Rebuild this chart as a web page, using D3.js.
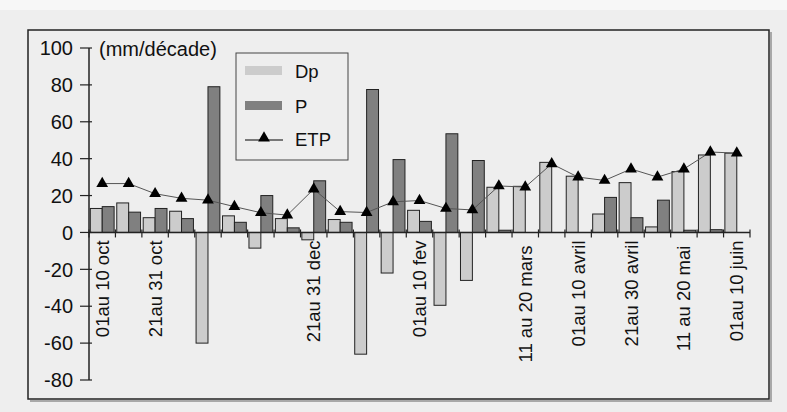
<!DOCTYPE html>
<html lang="fr">
<head>
<meta charset="UTF-8">
<title>Dp, P, ETP</title>
<script src="https://d3js.org/d3.v7.min.js"></script>
<style>
    body { margin: 0; padding: 0; background: #eeeeee; }
    svg { font-family: "Liberation Sans", Arial, sans-serif; display: block; }
</style>
</head>
<body>
<svg width="787" height="412"></svg>
<script>
    const decades = [
        "01au 10 oct", "11au 20 oct", "21au 31 oct",
        "01au 10 nov", "11au 20 nov", "21au 30 nov",
        "01au 10 dec", "11au 20 dec", "21au 31 dec",
        "01au 10 jan", "11au 20 jan", "21au 31 jan",
        "01au 10 fev", "11au 20 fev", "21au 28 fev",
        "01au 10 mars", "11 au 20 mars ", "21au 31 mars",
        "01au 10 avril", "11au 20 avril", "21au 30 avril",
        "01au 10 mai", "11 au 20 mai ", "21au 31 mai",
        "01au 10 juin"
    ];
    // labels actually printed under the axis
    const shownLabels = ["01au 10 oct", "21au 31 oct", "21au 31 dec", "01au 10 fev",
        "11 au 20 mars ", "01au 10 avril", "21au 30 avril", "11 au 20 mai ", "01au 10 juin"];

    const dp = [13, 16, 8, 11.5, -60, 9, -8.5, 7.5, -4, 7, -66, -22, 12, -39.5, -26,
        24.5, 25, 38, 30.5, 10, 27, 3, 33, 42, 43];
    const p = [14, 11, 13, 7.5, 79, 5.5, 20, 2.5, 28, 5.5, 77.5, 39.5, 6, 53.5, 39,
        1.2, 0, 0, 0, 19, 8, 17.5, 1.2, 1.5, 0];
    const etp = [26.5, 26.5, 21, 18.5, 17.5, 14, 10.7, 9.4, 23.5, 11.3, 10.8, 16.6, 17.3,
        13, 12.2, 25.2, 24.6, 37.2, 30, 28.2, 34.4, 30, 34.4, 43.6, 43];

    const yTicks = [-80, -60, -40, -20, 0, 20, 40, 60, 80, 100];

    const svg = d3.select("svg");

    // light strip at the top, then the framed chart with a soft shadow
    svg.append("rect").attr("x", 0).attr("y", 0).attr("width", 787).attr("height", 10)
        .attr("fill", "#f7f7f7");
    svg.append("path").attr("d", "M771,32V401H30")
        .attr("fill", "none").attr("stroke", "#a8a8a8").attr("stroke-width", 2);
    svg.append("rect").attr("x", 28).attr("y", 30).attr("width", 741).attr("height", 369)
        .attr("fill", "#eeeeee").attr("stroke", "#222").attr("stroke-width", 1.5);

    const x = d3.scaleBand().domain(decades).range([89, 750]).paddingInner(0.1).paddingOuter(0.05);
    const y = d3.scaleLinear().domain([-80, 100]).range([380, 48]);

    const bw = x.bandwidth() / 2;

    const g = svg.append("g");

    // Dp bars
    g.selectAll(".dp").data(dp).enter().append("rect")
        .attr("x", (d, i) => x(decades[i]))
        .attr("y", d => y(Math.max(0, d)))
        .attr("width", bw)
        .attr("height", d => Math.abs(y(d) - y(0)))
        .attr("fill", "#cccccc").attr("stroke", "#222").attr("stroke-width", 1);

    // P bars
    g.selectAll(".p").data(p).enter().append("rect")
        .attr("x", (d, i) => x(decades[i]) + bw)
        .attr("y", d => y(Math.max(0, d)))
        .attr("width", bw)
        .attr("height", d => Math.abs(y(d) - y(0)))
        .attr("fill", "#808080").attr("stroke", "#222").attr("stroke-width", 1);

    // y axis
    const yAxis = g.append("g").attr("transform", "translate(89,0)");
    yAxis.append("line").attr("y1", y(100)).attr("y2", y(-80)).attr("stroke", "#222").attr("stroke-width", 1.5);
    yAxis.selectAll(".yt").data(yTicks).enter().append("line")
        .attr("x1", -9).attr("x2", 3)
        .attr("y1", d => y(d)).attr("y2", d => y(d))
        .attr("stroke", "#222").attr("stroke-width", 1.2);
    yAxis.selectAll(".yl").data(yTicks).enter().append("text")
        .attr("x", -16).attr("y", d => y(d)).attr("dy", "0.36em")
        .attr("text-anchor", "end").attr("font-size", 20).attr("fill", "#111")
        .text(d => d);

    // x axis
    const bounds = d3.range(decades.length + 1).map(i => 89 + i * (661 / decades.length));
    const xAxis = g.append("g");
    xAxis.append("line").attr("x1", 89).attr("x2", 750).attr("y1", y(0)).attr("y2", y(0))
        .attr("stroke", "#222").attr("stroke-width", 1.5);
    xAxis.selectAll(".xt").data(bounds).enter().append("line")
        .attr("x1", d => d).attr("x2", d => d)
        .attr("y1", y(0) - 3).attr("y2", y(0) + 5)
        .attr("stroke", "#222").attr("stroke-width", 1.2);
    xAxis.selectAll(".xl").data(shownLabels).enter().append("text")
        .attr("transform", d => `translate(${x(d) + x.bandwidth() / 2},${y(0) + 8}) rotate(-90)`)
        .attr("text-anchor", "end").attr("dy", "0.35em")
        .style("white-space", "pre")
        .attr("font-size", 18.5).attr("fill", "#111")
        .text(d => d);

    // ETP line
    const cx = i => x(decades[i]) + x.bandwidth() / 2;
    g.append("path").datum(etp)
        .attr("d", d3.line().x((d, i) => cx(i)).y(d => y(d)))
        .attr("fill", "none").attr("stroke", "#555").attr("stroke-width", 1);
    const tri = d3.symbol().type(d3.symbolTriangle).size(60);
    g.selectAll(".etp").data(etp).enter().append("path")
        .attr("d", tri)
        .attr("transform", (d, i) => `translate(${cx(i)},${y(d)})`)
        .attr("fill", "#000");

    // unit label
    svg.append("text").attr("x", 99).attr("y", 56)
        .attr("font-size", 20).attr("fill", "#111").text("(mm/décade)");

    // legend
    const lg = svg.append("g");
    lg.append("rect").attr("x", 236).attr("y", 53).attr("width", 112).attr("height", 107)
        .attr("fill", "#eeeeee").attr("stroke", "#444").attr("stroke-width", 1);
    lg.append("rect").attr("x", 245).attr("y", 66).attr("width", 37).attr("height", 9).attr("fill", "#cccccc");
    lg.append("rect").attr("x", 245).attr("y", 101).attr("width", 37).attr("height", 9).attr("fill", "#808080");
    lg.append("line").attr("x1", 245).attr("x2", 283).attr("y1", 140).attr("y2", 140)
        .attr("stroke", "#000").attr("stroke-width", 1);
    lg.append("path").attr("d", tri).attr("transform", "translate(264,138)").attr("fill", "#000");
    const legTexts = [["Dp", 78], ["P", 113], ["ETP", 146]];
    lg.selectAll(".lt").data(legTexts).enter().append("text")
        .attr("x", 295).attr("y", d => d[1])
        .attr("font-size", 18.5).attr("fill", "#111").text(d => d[0]);
</script>
</body>
</html>
